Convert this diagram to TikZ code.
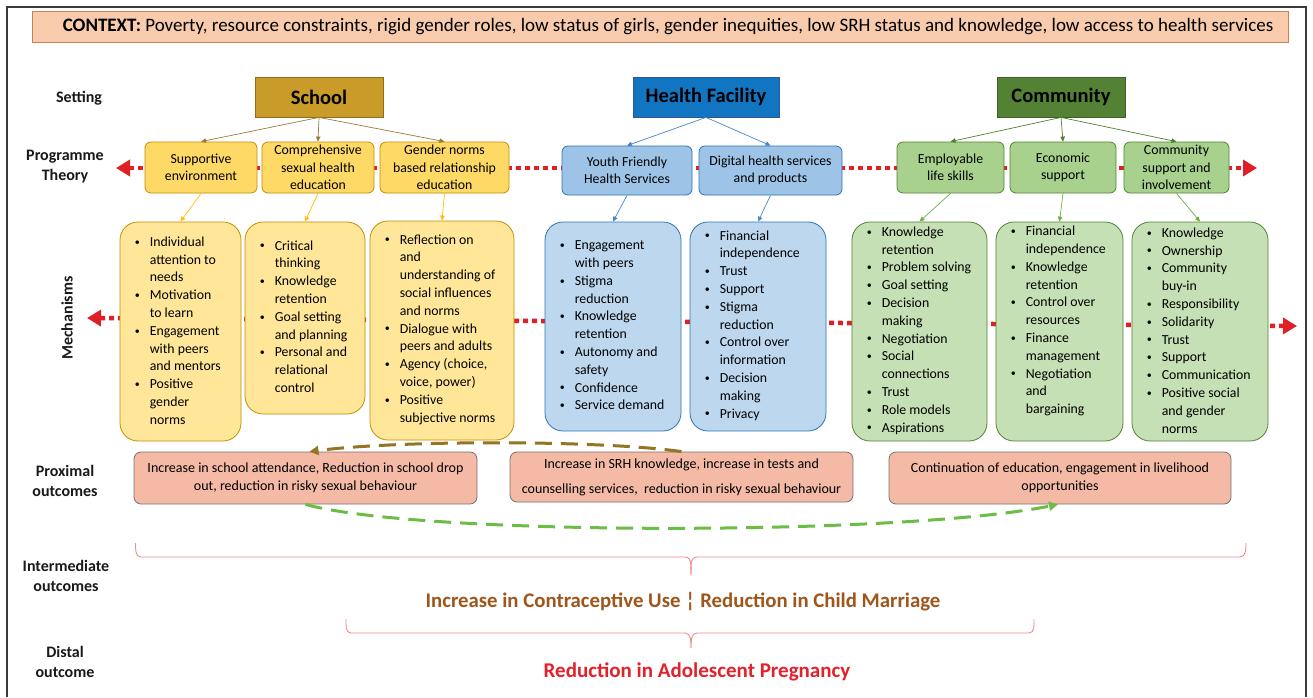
\documentclass[tikz,border=0pt]{standalone}
\usepackage{fontspec}
\setmainfont{Carlito}
\usetikzlibrary{arrows.meta}
\definecolor{ctxfill}{HTML}{F8CBAD}
\definecolor{ctxdraw}{HTML}{D0804E}
\definecolor{schoolfill}{HTML}{C99B28}
\definecolor{schooldraw}{HTML}{8F6D1A}
\definecolor{healthfill}{HTML}{1175C2}
\definecolor{healthdraw}{HTML}{2F5597}
\definecolor{commfill}{HTML}{548235}
\definecolor{commdraw}{HTML}{3D6126}
\definecolor{ylwpt}{HTML}{FFD966}
\definecolor{ylwm}{HTML}{FFE699}
\definecolor{ylwdraw}{HTML}{BF9000}
\definecolor{bluept}{HTML}{9DC3E6}
\definecolor{bluem}{HTML}{BDD7EE}
\definecolor{bluedraw}{HTML}{2E75B6}
\definecolor{grnpt}{HTML}{A9D18E}
\definecolor{grnm}{HTML}{C5E0B4}
\definecolor{grndraw}{HTML}{548235}
\definecolor{proxfill}{HTML}{F4BAA6}
\definecolor{proxdraw}{HTML}{767171}
\definecolor{redarrow}{HTML}{E02027}
\definecolor{browndash}{HTML}{957424}
\definecolor{greendash}{HTML}{6CBD45}
\definecolor{bracecol}{HTML}{F08C8C}
\definecolor{intertext}{HTML}{9E561C}
\definecolor{distaltext}{HTML}{E4202A}
\definecolor{framecol}{HTML}{3A3A3A}
\definecolor{arrS}{HTML}{9B7B3A}
\definecolor{arrH}{HTML}{4A86C8}
\definecolor{arrC}{HTML}{4F7F30}
\definecolor{arrY}{HTML}{FFC000}
\definecolor{arrG}{HTML}{70AD47}
\newcommand{\bul}{\makebox[15pt][l]{\raisebox{1.2pt}{\fontsize{10}{10}\selectfont\textbullet}}}
\newcommand{\ind}{\hspace*{15pt}}
\begin{document}
\begin{tikzpicture}[x=1pt,y=-1pt,
  lab/.style={font=\fontsize{16}{20}\selectfont\bfseries, align=center, text=black!90},
  setbox/.style 2 args={draw=#2, fill=#1, line width=0.8pt, minimum height=40pt, inner sep=0pt, font=\fontsize{20.5}{24}\selectfont\bfseries},
  ptbox/.style 2 args={draw=#2, fill=#1, rounded corners=6pt, line width=0.8pt, inner sep=0pt, align=center, font=\fontsize{13.8}{17.5}\selectfont},
  mbox/.style 2 args={draw=#2, fill=#1, rounded corners=18pt, line width=0.8pt, inner sep=0pt},
  mtxt/.style={anchor=west, align=left, inner sep=0pt, font=\fontsize{13.8}{17.8}\selectfont},
  prox/.style={draw=proxdraw, fill=proxfill, rounded corners=7pt, line width=0.8pt, inner sep=0pt, align=center, font=\fontsize{14}{18}\selectfont},
  thinarr/.style={draw=#1, line width=0.7pt, -{Triangle[length=5pt,width=4.5pt]}},
  reddots/.style={draw=redarrow, line width=4.5pt, dash pattern=on 5pt off 4pt, {Triangle[length=14pt,width=16pt]}-{Triangle[length=14pt,width=16pt]}},
  curvedash/.style={draw=#1, line width=3pt, dash pattern=on 17pt off 9pt, -{Triangle[length=9pt,width=9pt]}},
  bracestyle/.style={draw=bracecol, line width=0.9pt}
]
\useasboundingbox (0,0) rectangle (1313,697);
\fill[white] (0,0) rectangle (1313,697);
\draw[framecol, line width=2pt] (7,697) -- (7,7) -- (1306,7) -- (1306,697);

% context
\node[draw=ctxdraw, fill=ctxfill, line width=0.9pt, minimum width=1256pt, minimum height=31pt, inner sep=0pt] (ctx) at (660,26.5) {};
\node[font=\fontsize{19}{22}\selectfont, inner sep=0pt] (ctxt) at ([xshift=8pt]ctx.center)
  {\textbf{CONTEXT:} Poverty, resource constraints, rigid gender roles, low status of girls, gender inequities, low SRH status and knowledge, low access to health services};

% left labels
\node[lab] (lset) at (79,98) {Setting};
\node[lab] (lpt) at (65,167) {Programme\\Theory};
\node[lab, rotate=90] (lmech) at (67,318) {Mechanisms};
\node[lab] (lprox) at (65,481) {Proximal\\outcomes};
\node[lab] (linter) at (66,576) {Intermediate\\outcomes};
\node[lab] (ldist) at (65,662) {Distal\\outcome};

% red dotted lines (behind boxes)
\coordinate (ptL) at (116,168);
\coordinate (ptR) at (1257,168);
\coordinate (mL) at (87,318);
\coordinate (mR) at (1297,326);
\draw[reddots] (ptL) -- (ptR);
\draw[reddots] (mL) -- (mR);

% setting boxes
\node[setbox={schoolfill}{schooldraw}, minimum width=128pt] (school) at (319,97) {School};
\node[setbox={healthfill}{healthdraw}, minimum width=146pt] (health) at (706,97) {Health Facility};
\node[setbox={commfill}{commdraw}, minimum width=128pt] (comm) at (1061,97) {Community};

% programme theory boxes
\node[ptbox={ylwpt}{ylwdraw}, minimum width=112pt, minimum height=51pt] (pt1) at (201,167.5) {Supportive\\environment};
\node[ptbox={ylwpt}{ylwdraw}, minimum width=112pt, minimum height=51pt] (pt2) at (318,167.5) {Comprehensive\\sexual health\\education};
\node[ptbox={ylwpt}{ylwdraw}, minimum width=129pt, minimum height=51pt] (pt3) at (444.5,167.5) {Gender norms\\based relationship\\education};
\node[ptbox={bluept}{bluedraw}, minimum width=130pt, minimum height=49pt] (pt4) at (627,170.5) {Youth Friendly\\Health Services};
\node[ptbox={bluept}{bluedraw}, minimum width=143pt, minimum height=49pt] (pt5) at (770.5,170.5) {Digital health services\\and products};
\node[ptbox={grnpt}{grndraw}, minimum width=107pt, minimum height=51pt] (pt6) at (950.5,167.5) {Employable\\life skills};
\node[ptbox={grnpt}{grndraw}, minimum width=106pt, minimum height=51pt] (pt7) at (1063,167.5) {Economic\\support};
\node[ptbox={grnpt}{grndraw}, minimum width=105pt, minimum height=51pt] (pt8) at (1176.5,167.5) {Community\\support and\\involvement};

% setting -> PT arrows
\draw[thinarr=arrS] (school.south) -- (pt1.north);
\draw[thinarr=arrS] (school.south) -- (pt2.north);
\draw[thinarr=arrS] (school.south) -- (pt3.north);
\draw[thinarr=arrH] (health.south) -- (pt4.north);
\draw[thinarr=arrH] (health.south) -- (pt5.north);
\draw[thinarr=arrC] (comm.south) -- (pt6.north);
\draw[thinarr=arrC] (comm.south) -- (pt7.north);
\draw[thinarr=arrC] (comm.south) -- (pt8.north);

% mechanism boxes
\node[mbox={ylwm}{ylwdraw}, minimum width=121pt, minimum height=219pt] (m1) at (180.5,331.5) {};
\node[mbox={ylwm}{ylwdraw}, minimum width=120pt, minimum height=192pt] (m2) at (305,318) {};
\node[mbox={ylwm}{ylwdraw}, minimum width=144pt, minimum height=219pt] (m3) at (442,330.5) {};
\node[mbox={bluem}{bluedraw}, minimum width=136pt, minimum height=209pt] (m4) at (613,326.5) {};
\node[mbox={bluem}{bluedraw}, minimum width=136pt, minimum height=209pt] (m5) at (758,326.5) {};
\node[mbox={grnm}{grndraw}, minimum width=135pt, minimum height=219pt] (m6) at (919.5,331.5) {};
\node[mbox={grnm}{grndraw}, minimum width=127pt, minimum height=219pt] (m7) at (1059.5,331.5) {};
\node[mbox={grnm}{grndraw}, minimum width=136pt, minimum height=219pt] (m8) at (1200,331.5) {};

\node[mtxt] (t1) at ([xshift=15pt]m1.west |- 0,330.5) {\bul Individual\\ \ind attention to\\ \ind needs\\ \bul Motivation\\ \ind to learn\\ \bul Engagement\\ \ind with peers\\ \ind and mentors\\ \bul Positive\\ \ind gender\\ \ind norms};
\node[mtxt] (t2) at ([xshift=15pt]m2.west |- 0,316.5) {\bul Critical\\ \ind thinking\\ \bul Knowledge\\ \ind retention\\ \bul Goal setting\\ \ind and planning\\ \bul Personal and\\ \ind relational\\ \ind control};
\node[mtxt] (t3) at ([xshift=15pt]m3.west |- 0,329.5) {\bul Reflection on\\ \ind and\\ \ind understanding of\\ \ind social influences\\ \ind and norms\\ \bul Dialogue with\\ \ind peers and adults\\ \bul Agency (choice,\\ \ind voice, power)\\ \bul Positive\\ \ind subjective norms};
\node[mtxt] (t4) at ([xshift=15pt]m4.west |- 0,325.5) {\bul Engagement\\ \ind with peers\\ \bul Stigma\\ \ind reduction\\ \bul Knowledge\\ \ind retention\\ \bul Autonomy and\\ \ind safety\\ \bul Confidence\\ \bul Service demand};
\node[mtxt] (t5) at ([xshift=15pt]m5.west |- 0,325.5) {\bul Financial\\ \ind independence\\ \bul Trust\\ \bul Support\\ \bul Stigma\\ \ind reduction\\ \bul Control over\\ \ind information\\ \bul Decision\\ \ind making\\ \bul Privacy};
\node[mtxt] (t6) at ([xshift=15pt]m6.west |- 0,330.5) {\bul Knowledge\\ \ind retention\\ \bul Problem solving\\ \bul Goal setting\\ \bul Decision\\ \ind making\\ \bul Negotiation\\ \bul Social\\ \ind connections\\ \bul Trust\\ \bul Role models\\ \bul Aspirations};
\node[mtxt] (t7) at ([xshift=15pt]m7.west |- 0,321) {\bul Financial\\ \ind independence\\ \bul Knowledge\\ \ind retention\\ \bul Control over\\ \ind resources\\ \bul Finance\\ \ind management\\ \bul Negotiation\\ \ind and\\ \ind bargaining};
\node[mtxt] (t8) at ([xshift=15pt]m8.west |- 0,330.5) {\bul Knowledge\\ \bul Ownership\\ \bul Community\\ \ind buy-in\\ \bul Responsibility\\ \bul Solidarity\\ \bul Trust\\ \bul Support\\ \bul Communication\\ \bul Positive social\\ \ind and gender\\ \ind norms};

% PT -> mechanism arrows
\draw[thinarr=arrY] (pt1.south) -- (m1.north);
\draw[thinarr=arrY] (pt2.south) -- (m2.north);
\draw[thinarr=arrY] (pt3.south) -- (m3.north);
\draw[thinarr=arrH] (pt4.south) -- (m4.north);
\draw[thinarr=arrH] (pt5.south) -- (m5.north);
\draw[thinarr=arrG] (pt6.south) -- (m6.north);
\draw[thinarr=arrG] (pt7.south) -- (m7.north);
\draw[thinarr=arrG] (pt8.south) -- (m8.north);

% proximal outcomes
\node[prox, minimum width=343pt, minimum height=52pt] (p1) at (305.5,478) {Increase in school attendance, Reduction in school drop\\out, reduction in risky sexual behaviour};
\node[prox, minimum width=343pt, minimum height=50pt, font=\fontsize{14}{25}\selectfont] (p2) at (681.5,477) {Increase in SRH knowledge, increase in tests and\\counselling services,\ \ reduction in risky sexual behaviour};
\node[prox, minimum width=342pt, minimum height=52pt] (p3) at (1060,478) {Continuation of education, engagement in livelihood\\opportunities};

% dashed curved arrows
\draw[curvedash=browndash] (p2.north) .. controls (600,440) and (400,440) .. ([xshift=4pt]p1.north);
\draw[curvedash=greendash] (p1.south) .. controls (420,536) and (900,536) .. ([xshift=-2pt]p3.south);

% braces
\draw[bracestyle] (135.5,543) to[out=-90,in=180] (141,557) -- (685,557) to[out=0,in=90] (691,575);
\draw[bracestyle] (691,575) to[out=90,in=180] (697,557) -- (1240,557) to[out=0,in=-90] (1246,543);
\draw[bracestyle] (346,619) to[out=-90,in=180] (351,633) -- (685,633) to[out=0,in=90] (691,648);
\draw[bracestyle] (691,648) to[out=90,in=180] (697,633) -- (1029,633) to[out=0,in=-90] (1034,619);

% outcome texts
\node[font=\fontsize{20.8}{24}\selectfont\bfseries, text=intertext, inner sep=0pt] (inter) at (683,602) {Increase in Contraceptive Use ¦ Reduction in Child Marriage};
\node[font=\fontsize{21}{24}\selectfont\bfseries, text=distaltext, inner sep=0pt] (distal) at (697,672) {Reduction in Adolescent Pregnancy};
\end{tikzpicture}
\end{document}
